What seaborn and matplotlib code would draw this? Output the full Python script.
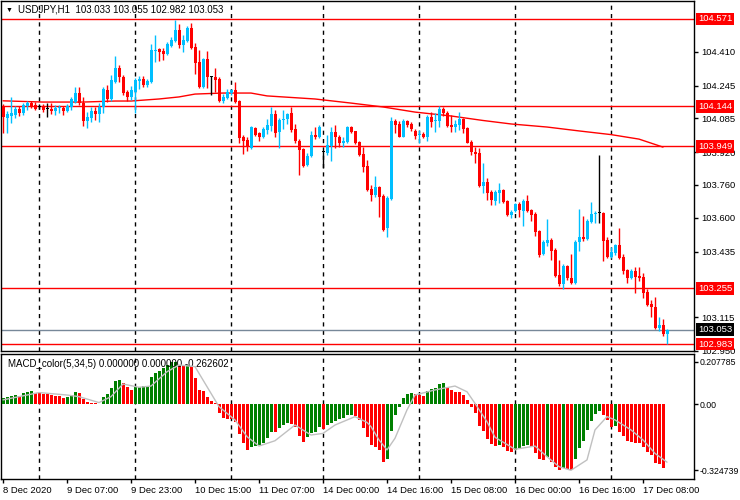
import numpy as np
import pandas as pd
import matplotlib
matplotlib.use("Agg")
import matplotlib.pyplot as plt
import matplotlib.transforms as mtransforms
import seaborn as sns

# USDJPY H1, 8 Dec 15:00 .. 17 Dec 14:00 (one entry per hourly bar)
opens = [
    104.146, 104.087, 104.097, 104.102, 104.131, 104.112, 104.146, 104.160, 104.151, 104.141,
    104.141, 104.131, 104.131, 104.121, 104.136, 104.136, 104.121, 104.141, 104.165, 104.209,
    104.160, 104.072, 104.087, 104.121, 104.107, 104.141, 104.224, 104.180, 104.263, 104.331,
    104.287, 104.214, 104.190, 104.214, 104.268, 104.278, 104.248, 104.263, 104.414, 104.424,
    104.414, 104.400, 104.439, 104.463, 104.517, 104.444, 104.463, 104.527, 104.434, 104.361,
    104.238, 104.375, 104.287, 104.287, 104.278, 104.170, 104.185, 104.209, 104.224, 104.170,
    103.994, 103.980, 103.941, 104.038, 104.014, 103.994, 104.028, 104.048, 104.107, 104.019,
    104.077, 104.082, 104.112, 104.033, 103.975, 103.936, 103.857, 103.901, 104.004, 103.994,
    103.921, 103.916, 103.950, 104.019, 103.994, 103.965, 103.970, 104.043, 104.024, 103.970,
    103.911, 103.853, 103.740, 103.711, 103.750, 103.706, 103.550, 103.691, 104.072, 104.058,
    103.994, 104.072, 104.058, 104.024, 104.004, 104.009, 103.994, 104.092, 104.072, 104.072,
    104.131, 104.112, 104.053, 104.043, 104.053, 104.082, 104.038, 103.970, 103.921, 103.916,
    103.755, 103.774, 103.726, 103.682, 103.721, 103.735, 103.682, 103.613, 103.633, 103.667,
    103.633, 103.682, 103.638, 103.618, 103.535, 103.423, 103.476, 103.491, 103.442, 103.320,
    103.276, 103.364, 103.305, 103.281, 103.481, 103.506, 103.496, 103.579, 103.618, 103.623,
    103.623, 103.491, 103.408, 103.428, 103.467, 103.408, 103.345, 103.305, 103.340, 103.315,
    103.310, 103.237, 103.178, 103.164, 103.061, 103.076, 103.033,
]
highs = [
    104.155, 104.121, 104.190, 104.146, 104.146, 104.160, 104.170, 104.170, 104.165, 104.155,
    104.155, 104.160, 104.160, 104.151, 104.151, 104.146, 104.155, 104.190, 104.238, 104.238,
    104.190, 104.116, 104.141, 104.141, 104.160, 104.238, 104.248, 104.297, 104.390, 104.346,
    104.297, 104.224, 104.243, 104.283, 104.292, 104.292, 104.278, 104.449, 104.493, 104.429,
    104.429, 104.458, 104.483, 104.566, 104.546, 104.493, 104.536, 104.551, 104.453, 104.419,
    104.380, 104.414, 104.292, 104.331, 104.287, 104.204, 104.229, 104.229, 104.263, 104.175,
    104.004, 103.994, 104.048, 104.043, 104.019, 104.043, 104.082, 104.141, 104.126, 104.087,
    104.126, 104.112, 104.141, 104.058, 103.984, 103.941, 103.916, 104.024, 104.043, 104.053,
    103.926, 104.004, 104.043, 104.053, 104.004, 103.994, 104.048, 104.048, 104.024, 103.975,
    103.945, 103.882, 103.760, 103.804, 103.755, 103.716, 103.706, 104.092, 104.082, 104.072,
    104.082, 104.077, 104.068, 104.033, 104.028, 104.019, 104.102, 104.116, 104.112, 104.146,
    104.141, 104.121, 104.102, 104.077, 104.116, 104.087, 104.043, 103.980, 103.945, 103.941,
    103.867, 103.794, 103.735, 103.735, 103.770, 103.740, 103.686, 103.638, 103.672, 103.677,
    103.691, 103.711, 103.643, 103.628, 103.540, 103.491, 103.594, 103.501, 103.452, 103.393,
    103.374, 103.369, 103.423, 103.491, 103.643, 103.608, 103.594, 103.677, 103.633, 103.906,
    103.628, 103.506, 103.457, 103.472, 103.550, 103.423, 103.349, 103.349, 103.359, 103.359,
    103.330, 103.252, 103.198, 103.213, 103.115, 103.105, 103.055,
]
lows = [
    104.014, 104.014, 104.063, 104.087, 104.097, 104.102, 104.126, 104.136, 104.126, 104.131,
    104.116, 104.092, 104.107, 104.102, 104.112, 104.102, 104.116, 104.126, 104.160, 104.151,
    104.048, 104.038, 104.068, 104.077, 104.068, 104.112, 104.165, 104.170, 104.258, 104.263,
    104.199, 104.170, 104.175, 104.112, 104.229, 104.238, 104.238, 104.258, 104.361, 104.366,
    104.370, 104.395, 104.434, 104.458, 104.429, 104.410, 104.458, 104.424, 104.302, 104.234,
    104.234, 104.234, 104.199, 104.214, 104.165, 104.160, 104.180, 104.199, 104.160, 103.965,
    103.911, 103.926, 103.936, 103.999, 103.975, 103.989, 104.009, 104.024, 103.994, 103.941,
    104.033, 104.058, 104.019, 103.965, 103.809, 103.848, 103.853, 103.897, 103.984, 103.989,
    103.843, 103.906, 103.877, 103.941, 103.945, 103.945, 103.965, 104.014, 103.960, 103.901,
    103.823, 103.730, 103.682, 103.701, 103.603, 103.535, 103.506, 103.686, 104.014, 103.994,
    103.994, 104.043, 104.024, 103.984, 103.965, 103.989, 103.975, 104.043, 104.019, 104.043,
    104.097, 104.043, 104.019, 104.019, 104.028, 104.014, 103.965, 103.906, 103.867, 103.750,
    103.721, 103.686, 103.662, 103.662, 103.672, 103.672, 103.608, 103.599, 103.628, 103.603,
    103.559, 103.628, 103.584, 103.511, 103.408, 103.418, 103.462, 103.393, 103.310, 103.266,
    103.252, 103.296, 103.276, 103.276, 103.437, 103.486, 103.491, 103.574, 103.574, 103.574,
    103.389, 103.403, 103.403, 103.418, 103.398, 103.325, 103.281, 103.301, 103.232, 103.291,
    103.208, 103.169, 103.115, 103.056, 103.046, 103.022, 102.982,
]
closes = [
    104.092, 104.107, 104.112, 104.131, 104.112, 104.151, 104.160, 104.146, 104.131, 104.141,
    104.126, 104.131, 104.121, 104.136, 104.141, 104.121, 104.146, 104.180, 104.209, 104.160,
    104.072, 104.092, 104.121, 104.107, 104.141, 104.229, 104.180, 104.273, 104.331, 104.287,
    104.209, 104.190, 104.224, 104.273, 104.278, 104.248, 104.268, 104.419, 104.419, 104.410,
    104.400, 104.449, 104.468, 104.517, 104.444, 104.468, 104.527, 104.429, 104.356, 104.238,
    104.375, 104.287, 104.287, 104.273, 104.170, 104.190, 104.214, 104.224, 104.165, 103.989,
    103.975, 103.945, 104.043, 104.004, 103.994, 104.033, 104.053, 104.107, 104.014, 104.077,
    104.082, 104.107, 104.028, 103.975, 103.931, 103.853, 103.901, 104.004, 103.994, 104.043,
    103.921, 103.955, 104.019, 103.994, 103.965, 103.975, 104.043, 104.019, 103.965, 103.906,
    103.848, 103.735, 103.711, 103.750, 103.701, 103.540, 103.696, 104.072, 104.053, 103.994,
    104.072, 104.053, 104.033, 103.999, 104.009, 103.994, 104.092, 104.068, 104.077, 104.131,
    104.112, 104.048, 104.043, 104.058, 104.082, 104.033, 103.965, 103.921, 103.911, 103.755,
    103.774, 103.721, 103.686, 103.726, 103.735, 103.677, 103.613, 103.628, 103.667, 103.638,
    103.682, 103.633, 103.613, 103.530, 103.418, 103.481, 103.491, 103.437, 103.315, 103.276,
    103.364, 103.305, 103.281, 103.481, 103.506, 103.496, 103.584, 103.618, 103.623, 103.623,
    103.486, 103.408, 103.433, 103.467, 103.403, 103.340, 103.305, 103.340, 103.310, 103.305,
    103.232, 103.174, 103.164, 103.061, 103.076, 103.032, 103.053,
]

# red moving average, read at sample bars
ma_idx = [0, 10, 20, 28, 32, 39, 44, 48, 55, 62, 66, 70, 78, 87, 95, 103, 112, 120,
          127, 136, 144, 152, 159, 165]
ma_val = [104.171, 104.165, 104.165, 104.170, 104.170, 104.180, 104.190, 104.204, 104.209,
          104.209, 104.195, 104.190, 104.180, 104.160, 104.141, 104.116, 104.097, 104.075,
          104.058, 104.043, 104.024, 104.006, 103.984, 103.945]

# horizontal levels
levels = [104.571, 104.144, 103.949, 103.255, 102.983]
bid = 103.053
price_ticks = [104.410, 104.245, 104.085, 103.920, 103.760, 103.600, 103.435,
               103.115, 102.950]

# MACD_color(5,34,5) histogram (last bar has no value yet)
macd_hist = [
    0.028, 0.036, 0.039, 0.043, 0.041, 0.052, 0.061, 0.063, 0.056, 0.055,
    0.051, 0.047, 0.044, 0.041, 0.039, 0.031, 0.033, 0.044, 0.059, 0.052,
    0.023, 0.008, 0.004, 0.003, 0.002, 0.036, 0.049, 0.077, 0.113, 0.118,
    0.101, 0.082, 0.069, 0.084, 0.085, 0.086, 0.088, 0.131, 0.153, 0.163,
    0.175, 0.191, 0.204, 0.2078, 0.191, 0.186, 0.193, 0.186, 0.126, 0.070,
    0.065, 0.036, 0.015, 0.003, -0.046, -0.067, -0.072, -0.075, -0.087, -0.147,
    -0.189, -0.225, -0.212, -0.208, -0.201, -0.189, -0.168, -0.136, -0.139, -0.119,
    -0.103, -0.091, -0.098, -0.114, -0.157, -0.185, -0.163, -0.142, -0.136, -0.111,
    -0.122, -0.103, -0.091, -0.082, -0.075, -0.067, -0.054, -0.052, -0.060, -0.078,
    -0.119, -0.163, -0.201, -0.209, -0.225, -0.283, -0.269, -0.131, -0.054, -0.016,
    0.028, 0.049, 0.056, 0.049, 0.042, 0.041, 0.064, 0.072, 0.080, 0.096,
    0.101, 0.085, 0.069, 0.060, 0.058, 0.044, 0.020, -0.016, -0.042, -0.108,
    -0.131, -0.173, -0.196, -0.204, -0.200, -0.209, -0.228, -0.235, -0.225, -0.215,
    -0.205, -0.203, -0.210, -0.240, -0.268, -0.272, -0.262, -0.283, -0.310, -0.325,
    -0.316, -0.320, -0.323, -0.269, -0.214, -0.180, -0.127, -0.082, -0.051, -0.033,
    -0.054, -0.078, -0.114, -0.108, -0.136, -0.157, -0.180, -0.185, -0.189, -0.193,
    -0.209, -0.233, -0.250, -0.291, -0.294, -0.315,
]
sig_idx = [0, 4, 9, 16, 19, 24, 27, 30, 34, 37, 41, 44, 48, 51, 54, 58, 61, 64, 68, 73,
           77, 80, 83, 88, 91, 92, 94, 96, 98, 101, 103, 108, 113, 116, 118, 121, 123, 128,
           133, 136, 139, 142, 146, 148, 151, 153, 157, 160, 163, 166]
sig_val = [0.020, 0.036, 0.056, 0.044, 0.036, 0.007, 0.036, 0.098, 0.082, 0.088, 0.158,
           0.191, 0.183, 0.085, -0.013, -0.078, -0.160, -0.206, -0.180, -0.103, -0.152,
           -0.144, -0.103, -0.062, -0.090, -0.111, -0.176, -0.225, -0.168, -0.029, 0.044,
           0.069, 0.088, 0.060, 0.003, -0.087, -0.163, -0.222, -0.206, -0.258, -0.307,
           -0.3247, -0.274, -0.127, -0.062, -0.078, -0.127, -0.176, -0.242, -0.285]
macd_ticks = [0.207785, 0.0, -0.324739]
macd_tick_labels = ["0.207785", "0.00", "-0.324739"]

time_idx = [0, 16, 32, 48, 64, 80, 96, 112, 128, 144, 160]
time_labels = ["8 Dec 2020", "9 Dec 07:00", "9 Dec 23:00", "10 Dec 15:00", "11 Dec 07:00",
               "14 Dec 00:00", "14 Dec 16:00", "15 Dec 08:00", "16 Dec 00:00",
               "16 Dec 16:00", "17 Dec 08:00"]
day_idx = [9, 33, 57, 80, 104, 128, 152]

BULL, BEAR, DOJI = "#00bfff", "#ff0000", "#000000"
FS = 6.8

sns.set_theme(style="white")
plt.rcParams["font.family"] = ["Liberation Sans", "DejaVu Sans"]
plt.rcParams["axes.edgecolor"] = "black"
plt.rcParams["axes.linewidth"] = 1.0

df = pd.DataFrame({"open": opens, "high": highs, "low": lows, "close": closes})
df["bar"] = np.arange(len(df))
df["color"] = np.where(df["close"] > df["open"], BULL,
                       np.where(df["close"] < df["open"], BEAR, DOJI))
df["bottom"] = df[["open", "close"]].min(axis=1)
df["height"] = (df["close"] - df["open"]).abs().clip(lower=0.0045)

fig = plt.figure(figsize=(7.4, 5.0), dpi=100)
ax = fig.add_axes([1 / 740, 1 - 351 / 500, 693 / 740, 350 / 500])
ax2 = fig.add_axes([1 / 740, 1 - 479 / 500, 693 / 740, 125 / 500])

# --- price panel ---
for d in day_idx:
    ax.axvline(d, color="black", lw=1, ls=(0, (3, 3)), zorder=1)
for lv in levels:
    ax.axhline(lv, color="#ff0000", lw=1, zorder=2)
ax.axhline(bid, color="#778899", lw=1, zorder=2)

sns.lineplot(x=ma_idx, y=ma_val, ax=ax, color="#ff0000", lw=1, zorder=3)

ax.vlines(df["bar"], df["low"], df["high"], colors=df["color"], lw=1, zorder=4)
ax.bar(df["bar"], df["height"], bottom=df["bottom"], width=0.75,
       color=df["color"], linewidth=0, zorder=5)

ax.set_xlim(-0.5, 172.75)
ax.set_ylim(102.949, 104.6586)
ax.set_xticks([])
ax.yaxis.tick_right()
ax.set_yticks(price_ticks)
ax.set_yticklabels([f"{t:.3f}" for t in price_ticks])
ax.tick_params(axis="y", which="both", right=True, length=3, width=1, pad=2,
               labelsize=FS, colors="black", direction="out")
ax.set_xlabel("")
ax.set_ylabel("")

trans = mtransforms.blended_transform_factory(ax.transAxes, ax.transData)
for lv in levels:
    ax.text(1.006, lv, f"{lv:.3f}", transform=trans, ha="left", va="center",
            fontsize=FS, color="white", zorder=10, clip_on=False,
            bbox=dict(boxstyle="square,pad=0.2", fc="#ff0000", ec="none"))
ax.text(1.006, bid, f"{bid:.3f}", transform=trans, ha="left", va="center",
        fontsize=FS, color="white", zorder=10, clip_on=False,
        bbox=dict(boxstyle="square,pad=0.2", fc="black", ec="none"))

fig.text(6 / 740, 1 - 10 / 500, "\u25bc", fontsize=5, va="center", color="black")
fig.text(18 / 740, 1 - 9 / 500, "USDJPY,H1  103.033 103.055 102.982 103.053",
         fontsize=7, va="center", color="black")

# --- MACD panel ---
macd_df = pd.DataFrame({"bar": np.arange(len(macd_hist)), "value": macd_hist})
prev = macd_df["value"].shift(1).fillna(macd_df["value"].iloc[0] - 1)
macd_df["trend"] = np.where(macd_df["value"] >= prev, "up", "down")

for d in day_idx:
    ax2.axvline(d, color="black", lw=1, ls=(0, (3, 3)), zorder=1)
sns.barplot(data=macd_df, x="bar", y="value", hue="trend",
            palette={"up": "#008000", "down": "#ff0000"}, native_scale=True,
            width=0.75, dodge=False, legend=False, saturation=1, errorbar=None,
            linewidth=0, ax=ax2, zorder=3)
sns.lineplot(x=sig_idx, y=sig_val, ax=ax2, color="#c0c0c0", lw=1, zorder=4)

ax2.set_xlim(-0.5, 172.75)
ax2.set_ylim(-0.3675, 0.245)
ax2.yaxis.tick_right()
ax2.set_yticks(macd_ticks)
ax2.set_yticklabels(macd_tick_labels)
ax2.set_xticks(time_idx)
ax2.set_xticklabels(time_labels, ha="left")
ax2.tick_params(axis="x", length=3, width=1, pad=2, labelsize=FS,
                colors="black", direction="out", bottom=True)
ax2.tick_params(axis="y", length=3, width=1, pad=1, labelsize=6.3,
                colors="black", direction="out", right=True)
ax2.set_xlabel("")
ax2.set_ylabel("")
ax2.text(7 / 693, 1 - 10 / 125, "MACD_color(5,34,5) 0.000000 0.000000 -0.262602",
         transform=ax2.transAxes, fontsize=7, va="center", ha="left", color="black")

fig.savefig("out.png", dpi=100)
